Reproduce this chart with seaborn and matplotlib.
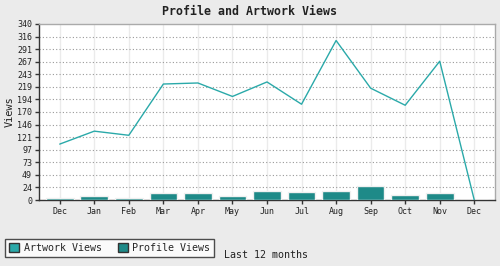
import matplotlib
matplotlib.use("Agg")
import matplotlib.pyplot as plt
import seaborn as sns
import pandas as pd
import numpy as np
from matplotlib.patches import Patch

months = ["Dec", "Jan", "Feb", "Mar", "Apr", "May", "Jun", "Jul", "Aug", "Sep", "Oct", "Nov", "Dec"]
artwork_views = [108, 133, 125, 224, 226, 200, 228, 185, 308, 216, 183, 268, 0]
profile_views = [3, 8, 4, 14, 14, 8, 18, 16, 18, 28, 10, 14, 0]
y_ticks = [0, 24, 49, 73, 97, 121, 146, 170, 194, 219, 243, 267, 291, 316, 340]

df = pd.DataFrame({
    "pos": list(range(len(months))),
    "month": months,
    "artwork": artwork_views,
    "profile": profile_views,
})

sns.set_theme(style="white")
plt.rcParams["font.family"] = ["DejaVu Sans Mono"]

line_c = "#2aa9a9"
bar_c = "#1e8a88"

fig = plt.figure(figsize=(5, 2.66), dpi=100, facecolor="#ebebeb")
ax = fig.add_axes([0.078, 0.248, 0.912, 0.662])
ax.set_facecolor("white")

sns.barplot(data=df, x="pos", y="profile", color=bar_c, saturation=1, width=0.8,
            edgecolor="#f0f0f0", linewidth=1, ax=ax, zorder=3)
sns.lineplot(x=np.arange(len(months)), y=df["artwork"], color=line_c, linewidth=1,
             ax=ax, zorder=4)

ax.set_xlim(-0.6, 12.6)
ax.set_ylim(0, 340)
ax.set_yticks(np.linspace(0, 340, 15))
ax.set_yticklabels([str(v) for v in y_ticks])
ax.set_xticks(range(len(months)))
ax.set_xticklabels(months)

for v in np.linspace(0, 340, 15)[1:-1]:
    ax.axhline(v, color="#999999", linestyle=(0, (1, 2)), linewidth=0.8, zorder=1)
for x in range(len(months)):
    ax.axvline(x, color="#ebebeb", linewidth=1, zorder=0)

ax.tick_params(axis="both", labelsize=6, length=3, width=1, color="#333333",
               direction="out", pad=2, colors="#222222")
ax.tick_params(axis="both", which="both", left=True, bottom=True)
for s in ["left", "bottom"]:
    ax.spines[s].set_color("#333333")
    ax.spines[s].set_linewidth(1)
for s in ["top", "right"]:
    ax.spines[s].set_color("#aaaaaa")
    ax.spines[s].set_linewidth(1)

ax.set_xlabel("")
ax.set_ylabel("Views", fontsize=7.4, color="#222222", labelpad=2)

fig.text(0.5, 0.955, "Profile and Artwork Views", ha="center", va="center",
         fontsize=8.4, fontweight="bold", color="#222222")
fig.text(0.448, 0.042, "Last 12 months", ha="left", va="center",
         fontsize=7.2, color="#222222")

handles = [Patch(facecolor=line_c, edgecolor="#333333", linewidth=1, label="Artwork Views"),
           Patch(facecolor=bar_c, edgecolor="#333333", linewidth=1, label="Profile Views")]
leg = fig.legend(handles=handles, loc="lower left", bbox_to_anchor=(0.01, 0.035),
                 ncol=2, fontsize=7.2, frameon=True, fancybox=False,
                 handlelength=1.0, handleheight=1.0, handletextpad=0.45,
                 columnspacing=1.6, borderpad=0.4, borderaxespad=0)
leg.get_frame().set_edgecolor("#222222")
leg.get_frame().set_linewidth(1)
leg.get_frame().set_facecolor("white")

fig.savefig("out.png", dpi=100, facecolor=fig.get_facecolor())
